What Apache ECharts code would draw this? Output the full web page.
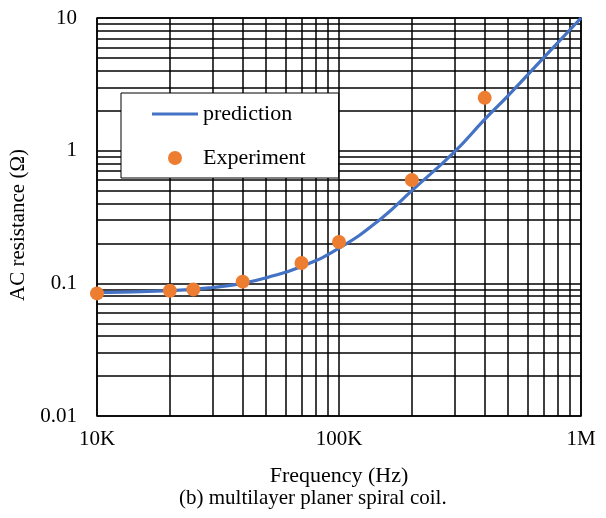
<!DOCTYPE html>
<html>
<head>
<meta charset="utf-8">
<script src="https://cdn.jsdelivr.net/npm/echarts@6/dist/echarts.min.js"></script>
<style>
  html, body { margin: 0; padding: 0; background: #fff; }
  #chart { width: 606px; height: 518px; }
</style>
</head>
<body>
<div id="chart"></div>
<script>
// prediction curve
const predFreq = [10000, 20000, 30000, 40000, 50000, 70000, 100000, 150000, 200000, 300000, 400000, 500000, 700000, 1000000];
const predR = [0.085, 0.088, 0.093, 0.1, 0.11, 0.134, 0.184, 0.31, 0.5, 0.98, 1.72, 2.6, 5.0, 10.0];

// measured points
const expFreq = [10000, 20000, 25000, 40000, 70000, 100000, 200000, 400000];
const expR = [0.084, 0.088, 0.09, 0.103, 0.1425, 0.205, 0.6, 2.5];

const xTickLabels = ["10K", "100K", "1M"];
const yTickLabels = ["0.01", "0.1", "1", "10"];

const FONT = "Liberation Serif";

// minor log grid lines (2..9 in every decade)
let minorX = [];
let minorY = [];
[10000, 100000].forEach((d) => {
  for (let k = 2; k <= 9; k++) minorX.push({ xAxis: d * k });
});
[0.01, 0.1, 1].forEach((d) => {
  for (let k = 2; k <= 9; k++) minorY.push({ yAxis: +(d * k).toPrecision(3) });
});

const myChart = echarts.init(document.getElementById("chart"));

const option = {
  animation: false,
  title: {
    text: "(b) multilayer planer spiral coil.",
    left: 179,
    top: 488,
    padding: 0,
    textStyle: { fontFamily: FONT, fontSize: 21, fontWeight: "normal", color: "#000" },
  },
  legend: {
    orient: "vertical",
    left: 121,
    top: 93,
    z: 20,
    padding: [10, 33, 9, 31],
    itemGap: 22,
    itemWidth: 46,
    itemHeight: 14,
    backgroundColor: "#fff",
    borderColor: "#000",
    borderWidth: 1,
    textStyle: { fontFamily: FONT, fontSize: 22, color: "#000" },
    data: [
      { name: "prediction", icon: "path://M0,0 L46,0 L46,3 L0,3 Z" },
      { name: "Experiment", icon: "circle" },
    ],
  },
  grid: {
    left: 97,
    right: 25,
    top: 18,
    bottom: 102,
    show: true,
    borderColor: "#000",
    borderWidth: 1.5,
    backgroundColor: "transparent",
  },
  xAxis: {
    type: "log",
    logBase: 10,
    min: 10000,
    max: 1000000,
    name: "Frequency (Hz)",
    nameLocation: "middle",
    nameGap: 49,
    nameTextStyle: { fontFamily: FONT, fontSize: 22, color: "#000" },
    axisLine: { show: false },
    axisTick: { show: false },
    axisLabel: {
      margin: 13,
      fontFamily: FONT,
      fontSize: 21,
      color: "#000",
      formatter: (v) => xTickLabels[Math.round(Math.log10(v)) - 4],
    },
    splitLine: { show: true, lineStyle: { color: "#000", width: 1.5 } },
  },
  yAxis: {
    type: "log",
    logBase: 10,
    min: 0.01,
    max: 10,
    name: "AC resistance (Ω)",
    nameLocation: "middle",
    nameGap: 63,
    nameTextStyle: { fontFamily: FONT, fontSize: 21, color: "#000", padding: [0, 16, 0, 0] },
    axisLine: { show: false },
    axisTick: { show: false },
    axisLabel: {
      margin: 20,
      fontFamily: FONT,
      fontSize: 21,
      color: "#000",
      formatter: (v) => yTickLabels[Math.round(Math.log10(v)) + 2],
    },
    splitLine: { show: true, lineStyle: { color: "#000", width: 1.5 } },
  },
  series: [
    {
      name: "grid",
      type: "line",
      data: [],
      silent: true,
      z: 1,
      markLine: {
        silent: true,
        z: 1,
        symbol: ["none", "none"],
        label: { show: false },
        emphasis: { disabled: true },
        lineStyle: { color: "#000", width: 1.5, type: "solid" },
        data: minorX.concat(minorY),
      },
    },
    {
      name: "prediction",
      type: "line",
      smooth: true,
      symbol: "none",
      z: 3,
      lineStyle: { color: "#4472C4", width: 3.2 },
      itemStyle: { color: "#4472C4" },
      data: predFreq.map((f, i) => [f, predR[i]]),
    },
    {
      name: "Experiment",
      type: "scatter",
      symbol: "circle",
      symbolSize: 14,
      z: 4,
      itemStyle: { color: "#ED7D31", opacity: 1 },
      data: expFreq.map((f, i) => [f, expR[i]]),
    },
  ],
};

myChart.setOption(option);
</script>
</body>
</html>
